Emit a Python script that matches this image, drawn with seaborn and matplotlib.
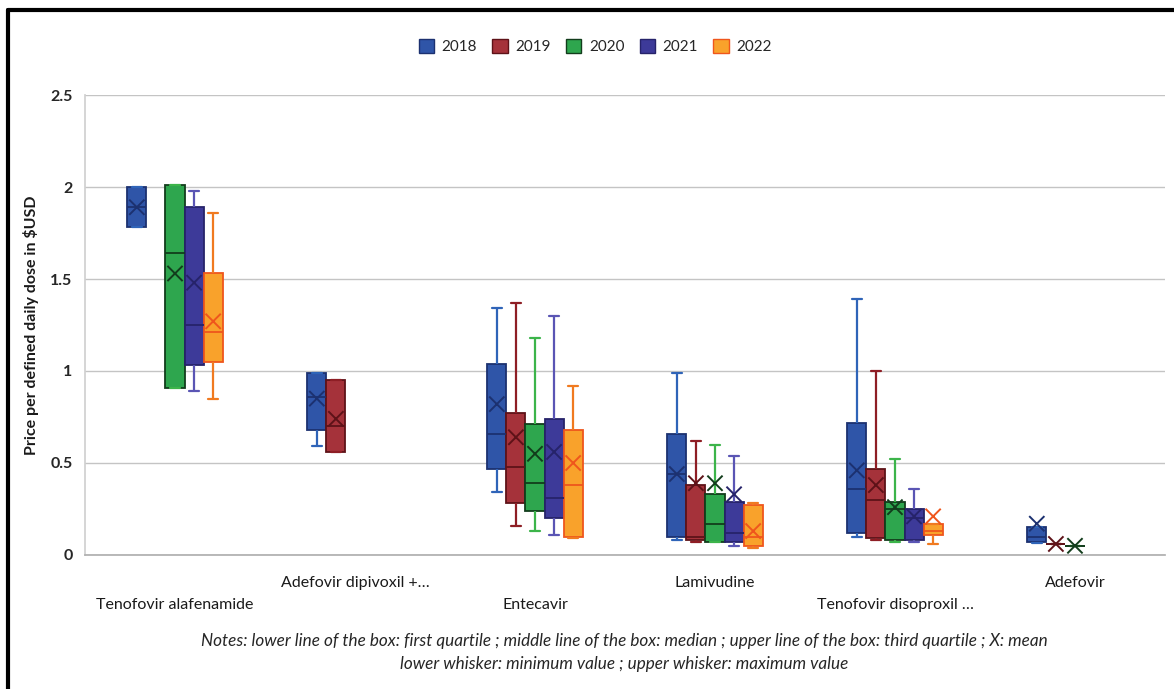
import pandas as pd
import seaborn as sns
import matplotlib.pyplot as plt
from matplotlib.patches import Patch
from matplotlib.lines import Line2D


drugs = ["Tenofovir alafenamide", "Adefovir dipivoxil +\u2026", "Entecavir",
         "Lamivudine", "Tenofovir disoproxil \u2026", "Adefovir"]
years = ["2018", "2019", "2020", "2021", "2022"]

# rows = drugs, columns = years (None = no data that year)
mins = [[1.78, None, 0.91, 0.89, 0.85],
        [0.59, 0.56, None, None, None],
        [0.34, 0.16, 0.13, 0.11, 0.09],
        [0.08, 0.07, 0.07, 0.05, 0.04],
        [0.10, 0.08, 0.07, 0.07, 0.06],
        [0.065, 0.06, 0.05, None, None]]
q1s = [[1.78, None, 0.91, 1.03, 1.05],
       [0.68, 0.56, None, None, None],
       [0.47, 0.28, 0.24, 0.20, 0.10],
       [0.10, 0.08, 0.07, 0.07, 0.05],
       [0.12, 0.09, 0.08, 0.08, 0.11],
       [0.07, 0.06, 0.05, None, None]]
medians = [[1.89, None, 1.64, 1.25, 1.21],
           [0.86, 0.70, None, None, None],
           [0.66, 0.48, 0.39, 0.31, 0.38],
           [0.44, 0.10, 0.17, 0.12, 0.10],
           [0.36, 0.30, 0.25, 0.20, 0.13],
           [0.10, 0.06, 0.05, None, None]]
q3s = [[2.00, None, 2.01, 1.89, 1.53],
       [0.99, 0.95, None, None, None],
       [1.04, 0.77, 0.71, 0.74, 0.68],
       [0.66, 0.38, 0.33, 0.29, 0.27],
       [0.72, 0.47, 0.29, 0.25, 0.17],
       [0.15, 0.06, 0.05, None, None]]
maxs = [[2.00, None, 2.01, 1.98, 1.86],
        [0.99, 0.95, None, None, None],
        [1.34, 1.37, 1.18, 1.30, 0.92],
        [0.99, 0.62, 0.60, 0.54, 0.28],
        [1.39, 1.00, 0.52, 0.36, 0.17],
        [0.15, 0.06, 0.05, None, None]]
means = [[1.89, None, 1.53, 1.48, 1.27],
         [0.85, 0.74, None, None, None],
         [0.82, 0.64, 0.55, 0.56, 0.50],
         [0.44, 0.39, 0.39, 0.33, 0.13],
         [0.46, 0.38, 0.26, 0.21, 0.21],
         [0.17, 0.06, 0.05, None, None]]

fills = {"2018": "#2f55a8", "2019": "#a5323a", "2020": "#2ea64e",
         "2021": "#3d3a99", "2022": "#f9a22b"}
edges = {"2018": "#1c3170", "2019": "#5e1218", "2020": "#123d1c",
         "2021": "#26236a", "2022": "#ef561c"}
whisk = {"2018": "#2f64b8", "2019": "#8e1e25", "2020": "#3cb44a",
         "2021": "#5a55b4", "2022": "#f07a20"}

# five-number summary per box -> long table
rows, mean_rows = [], []
width = 0.53
for i, drug in enumerate(drugs):
    for j, year in enumerate(years):
        if mins[i][j] is None:
            continue
        for v in (mins[i][j], q1s[i][j], medians[i][j], q3s[i][j], maxs[i][j]):
            rows.append({"drug": drug, "year": year, "price": v})
        mean_rows.append({"year": year, "mean": means[i][j],
                          "xpos": i + (j - 2) * width / len(years)})
df = pd.DataFrame(rows)
mdf = pd.DataFrame(mean_rows)

sns.set_theme(style="white")
plt.rcParams["font.family"] = ["Lato", "DejaVu Sans"]

fig = plt.figure(figsize=(11.74, 6.89), dpi=100)
ax = fig.add_axes([0.0724, 0.1945, 0.9199, 0.6676])

for year in years:
    sns.boxplot(data=df[df.year == year], x="drug", y="price", hue="year",
                order=drugs, hue_order=years, palette=fills, saturation=1,
                dodge=True, width=width, gap=0, whis=(0, 100),
                linecolor=edges[year], linewidth=1.3, legend=False, ax=ax,
                whiskerprops={"color": whisk[year], "linewidth": 1.6},
                capprops={"color": whisk[year], "linewidth": 1.6})

sns.scatterplot(data=mdf, x="xpos", y="mean", hue="year", palette=edges,
                marker="x", s=120, linewidth=1.4, legend=False, zorder=5, ax=ax)

ax.set_xlim(-0.5, 5.5)
ax.set_ylim(0, 2.5)
ax.set_yticks([0, 0.5, 1, 1.5, 2, 2.5], ["0", "0.5", "1", "1.5", "2", "2.5"])
ax.yaxis.grid(True, color="#c4c4c4", linewidth=1)
ax.set_axisbelow(True)
for s in ("top", "right"):
    ax.spines[s].set_visible(False)
ax.spines["left"].set_color("#d0d0d0")
ax.spines["bottom"].set_color("#b0b0b0")
ax.tick_params(axis="y", length=4, color="#c8c8c8", labelsize=11.5, pad=5)
ax.tick_params(axis="x", length=0, labelsize=11.5, colors="#1a1a1a")
for lab in ax.get_yticklabels():
    lab.set_fontweight("bold")
ax.set_xlabel("")
ax.set_ylabel("Price per defined daily dose in $USD", fontsize=11.5,
              fontweight="bold", color="#1a1a1a")
ax.yaxis.set_label_coords(-0.043, 0.5)

# staggered category labels
for i, tick in enumerate(ax.xaxis.get_major_ticks()):
    tick.set_pad(15 if i % 2 else 31)

handles = [Patch(facecolor=fills[y], edgecolor=edges[y], linewidth=1)
           for y in years]
fig.legend(handles, years, loc="center", bbox_to_anchor=(0.507, 0.932),
           ncol=5, frameon=False, handlelength=1.0, handleheight=1.0,
           columnspacing=1.0, handletextpad=0.5, fontsize=11)

fig.text(0.532, 1 - 641 / 689,
         "Notes: lower line of the box: first quartile ; middle line of the box: "
         "median ; upper line of the box: third quartile ; X: mean",
         ha="center", va="center", style="italic", fontsize=12.3)
fig.text(0.532, 1 - 664 / 689,
         "lower whisker: minimum value ; upper whisker: maximum value",
         ha="center", va="center", style="italic", fontsize=12.3)

# frame lines of the original picture
fig.add_artist(Line2D([0.0072, 0.0072], [0, 0.986], transform=fig.transFigure,
                      color="black", linewidth=3))
fig.add_artist(Line2D([0.0072, 1], [0.986, 0.986], transform=fig.transFigure,
                      color="black", linewidth=3))

fig.savefig("out.png", dpi=100)
